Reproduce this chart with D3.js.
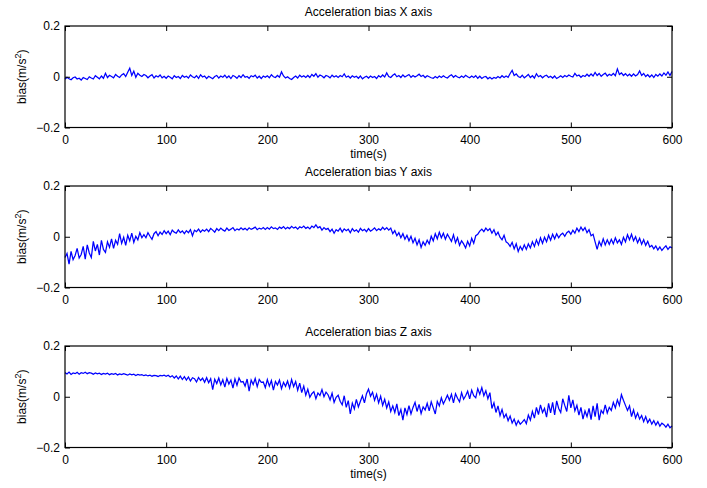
<!DOCTYPE html>
<html>
<head>
<meta charset="utf-8">
<script src="https://cdn.jsdelivr.net/npm/d3@7"></script>
<style>
  body { margin: 0; background: #fff; }
  svg { display: block; }
  text { font-family: "Liberation Sans", Arial, Helvetica, sans-serif; fill: #000; }
  .tick text { font-size: 12px; }
  .box { fill: none; stroke: #000; stroke-width: 1.2; }
  .trace { fill: none; stroke: #0000ff; stroke-width: 1.25; stroke-linejoin: miter; }
</style>
</head>
<body>
<div class="chart-container"></div>
<script>
// sample spacing (s) of the traces below
var timeStep = 2;

var titles = ['Acceleration bias X axis', 'Acceleration bias Y axis', 'Acceleration bias Z axis'];
var xTicks = [0, 100, 200, 300, 400, 500, 600];
var yTicks = [-0.2, 0, 0.2];

var biasX = [
  -0.010,-0.002,-0.008,-0.012,-0.004,-0.001,-0.009,-0.006,-0.013,-0.003,
  -0.007,-0.011,0.000,-0.005,-0.009,0.004,-0.002,-0.008,0.003,-0.006,
  0.014,-0.003,0.006,0.001,-0.004,0.009,0.002,-0.003,0.007,0.012,
  0.001,0.018,0.034,0.005,0.022,-0.002,0.014,0.006,0.001,0.009,
  0.005,-0.004,0.003,0.008,-0.005,0.004,-0.001,0.007,-0.004,0.002,
  -0.006,0.003,-0.002,-0.008,0.004,-0.003,0.001,-0.007,0.005,-0.002,
  0.002,-0.005,0.007,0.000,-0.004,0.004,-0.006,0.008,-0.001,0.003,
  -0.007,0.002,-0.003,-0.008,0.001,0.005,-0.005,0.003,-0.002,0.006,
  -0.004,0.003,-0.007,0.005,0.001,-0.006,0.004,-0.003,0.008,-0.002,
  0.001,-0.006,0.004,0.000,0.006,-0.005,0.002,-0.007,0.003,-0.002,
  0.004,-0.004,0.008,0.000,-0.003,0.005,-0.002,0.019,0.003,-0.005,
  0.000,-0.007,-0.011,-0.003,0.003,-0.005,0.006,-0.001,0.004,-0.003,
  0.005,-0.003,0.009,0.002,0.012,-0.002,0.007,0.003,-0.004,0.005,
  0.002,-0.004,0.006,-0.001,0.004,-0.003,0.005,0.000,0.011,-0.002,
  0.003,-0.005,0.004,-0.002,0.002,-0.006,0.003,-0.008,-0.002,0.002,
  -0.005,0.003,-0.003,0.001,-0.007,0.004,-0.002,0.007,-0.001,0.015,
  0.001,-0.003,0.006,0.011,0.000,0.005,-0.003,0.007,-0.001,0.004,
  0.009,-0.002,0.005,-0.001,0.004,0.010,0.001,0.006,-0.003,0.004,
  0.000,-0.004,-0.006,0.001,-0.005,0.003,-0.003,0.004,-0.002,-0.005,
  0.003,0.008,-0.002,0.005,-0.001,-0.004,0.003,-0.003,0.006,0.000,
  -0.004,0.003,-0.003,0.004,-0.006,0.002,-0.007,-0.001,0.001,-0.008,
  -0.002,-0.009,-0.003,-0.006,0.001,-0.005,0.004,-0.003,0.003,-0.002,
  0.013,0.025,0.005,0.011,0.001,-0.003,0.006,-0.004,0.002,0.009,
  -0.003,0.004,-0.005,0.012,0.000,0.005,-0.004,0.003,0.006,-0.003,
  0.002,-0.005,0.003,-0.007,-0.002,0.004,-0.003,0.005,0.000,0.007,
  0.002,-0.001,0.013,0.003,0.007,-0.002,0.005,0.001,0.010,0.002,
  0.011,0.003,0.017,0.005,0.013,0.002,0.009,0.014,0.003,0.010,
  0.005,0.013,0.004,0.031,0.009,0.015,0.005,0.012,0.003,0.010,
  0.002,0.011,0.003,0.009,0.023,0.005,0.013,0.001,0.008,-0.001,
  0.007,-0.003,0.009,0.002,0.011,0.003,0.015,0.006,0.019,0.005,
  0.021
];

var biasY = [
  -0.082,-0.066,-0.108,-0.058,-0.090,-0.074,-0.046,-0.084,-0.070,-0.038,
  -0.088,-0.032,-0.064,-0.082,-0.018,-0.056,-0.030,-0.072,-0.014,-0.050,
  -0.062,-0.020,-0.042,-0.008,-0.046,-0.014,-0.030,0.012,-0.026,-0.002,
  -0.034,0.006,-0.016,0.014,-0.022,0.002,-0.012,0.016,-0.004,0.008,
  -0.004,0.016,0.002,-0.010,0.012,0.020,0.004,0.018,0.009,0.024,
  0.012,0.022,0.008,0.026,0.018,0.014,0.027,0.016,0.023,0.012,
  0.024,0.016,0.028,0.004,0.026,0.020,0.030,0.018,0.027,0.022,
  0.030,0.020,0.033,0.026,0.018,0.032,0.024,0.034,0.027,0.022,
  0.034,0.025,0.030,0.036,0.024,0.031,0.027,0.035,0.028,0.033,
  0.026,0.035,0.029,0.033,0.038,0.028,0.034,0.030,0.036,0.029,
  0.036,0.030,0.039,0.032,0.035,0.029,0.038,0.033,0.040,0.031,
  0.037,0.032,0.041,0.034,0.038,0.030,0.039,0.035,0.042,0.033,
  0.038,0.031,0.042,0.036,0.047,0.035,0.040,0.026,0.036,0.029,
  0.033,0.020,0.030,0.014,0.028,0.022,0.034,0.019,0.031,0.024,
  0.030,0.016,0.032,0.022,0.027,0.018,0.033,0.024,0.029,0.020,
  0.032,0.022,0.028,0.035,0.024,0.031,0.026,0.037,0.028,0.036,
  0.026,0.034,0.012,0.024,0.004,0.016,-0.004,0.012,-0.010,0.006,
  -0.016,0.002,-0.024,-0.006,-0.032,-0.012,-0.042,-0.020,-0.034,-0.014,
  -0.028,0.002,-0.016,0.012,-0.008,0.018,-0.004,0.014,-0.010,0.010,
  -0.004,-0.018,0.008,-0.024,-0.004,-0.034,-0.016,-0.028,-0.044,-0.018,
  -0.036,-0.006,-0.026,0.004,0.010,0.022,0.030,0.020,0.034,0.024,
  0.032,0.014,0.028,0.006,0.018,-0.002,-0.012,0.006,-0.020,-0.026,
  -0.038,-0.022,-0.048,-0.028,-0.058,-0.038,-0.052,-0.032,-0.050,-0.028,
  -0.044,-0.020,-0.038,-0.012,-0.032,-0.004,-0.026,-0.002,-0.020,0.006,
  -0.014,0.010,-0.008,0.012,-0.004,0.008,0.014,0.002,0.016,0.022,
  0.010,0.026,0.014,0.034,0.020,0.038,0.024,0.036,0.016,0.028,
  0.004,0.010,-0.020,-0.050,-0.018,-0.036,-0.008,-0.032,-0.012,-0.030,
  -0.010,-0.028,-0.004,-0.024,-0.012,-0.030,-0.002,-0.020,0.008,-0.012,
  0.010,-0.016,0.000,-0.024,-0.006,-0.030,-0.012,-0.034,-0.018,-0.040,
  -0.034,-0.048,-0.036,-0.052,-0.040,-0.054,-0.044,-0.036,-0.050,-0.040,
  -0.044
];

var biasZ = [
  0.095,0.090,0.097,0.088,0.094,0.091,0.096,0.089,0.095,0.092,
  0.097,0.091,0.095,0.093,0.089,0.094,0.090,0.093,0.088,0.092,
  0.089,0.093,0.087,0.091,0.088,0.092,0.086,0.090,0.087,0.091,
  0.088,0.085,0.090,0.086,0.089,0.084,0.088,0.085,0.087,0.083,
  0.086,0.082,0.085,0.081,0.084,0.083,0.080,0.084,0.082,0.085,
  0.081,0.085,0.078,0.083,0.074,0.082,0.070,0.081,0.068,0.079,
  0.066,0.078,0.062,0.075,0.071,0.058,0.076,0.064,0.073,0.057,
  0.075,0.055,0.071,0.028,0.069,0.052,0.074,0.047,0.067,0.038,
  0.072,0.050,0.066,0.034,0.070,0.045,0.074,0.058,0.060,0.042,
  0.070,0.022,0.066,0.048,0.072,0.040,0.068,0.057,0.058,0.036,
  0.068,0.042,0.064,0.026,0.060,0.046,0.066,0.032,0.057,0.041,
  0.062,0.034,0.068,0.040,0.060,0.026,0.054,0.016,0.042,0.006,
  0.030,-0.002,0.012,0.020,-0.008,0.015,0.005,0.028,0.000,0.018,
  0.008,-0.012,0.014,-0.022,-0.002,0.006,-0.018,-0.032,0.004,-0.042,
  -0.015,-0.068,-0.025,-0.048,-0.010,-0.040,-0.018,0.004,-0.024,0.012,
  0.030,0.002,0.018,-0.014,0.010,-0.024,0.002,-0.034,-0.010,-0.044,
  -0.020,-0.058,-0.036,-0.062,-0.028,-0.074,-0.050,-0.092,-0.044,-0.070,
  -0.035,-0.068,-0.042,-0.022,-0.058,-0.030,-0.066,-0.040,-0.052,-0.026,
  -0.056,-0.020,-0.044,-0.068,-0.018,-0.036,-0.004,-0.028,-0.012,0.006,
  -0.014,0.010,-0.024,0.012,-0.006,-0.020,0.016,-0.010,0.004,0.022,
  -0.008,0.026,0.004,-0.004,0.032,0.010,0.036,0.004,0.024,-0.008,
  0.016,-0.046,-0.024,-0.062,-0.036,-0.074,-0.050,-0.082,-0.068,-0.094,
  -0.076,-0.104,-0.088,-0.112,-0.094,-0.108,-0.100,-0.090,-0.106,-0.072,
  -0.092,-0.058,-0.084,-0.042,-0.070,-0.032,-0.062,-0.046,-0.080,-0.026,
  -0.064,-0.022,-0.072,-0.016,-0.046,-0.062,-0.008,-0.034,-0.058,0.006,
  -0.044,-0.012,-0.056,-0.034,-0.072,-0.042,-0.088,-0.056,-0.078,-0.046,
  -0.090,-0.036,-0.078,-0.026,-0.092,-0.054,-0.066,-0.032,-0.064,-0.042,
  -0.054,-0.022,-0.044,-0.012,-0.034,0.008,-0.014,-0.034,-0.054,-0.036,
  -0.078,-0.052,-0.084,-0.064,-0.088,-0.074,-0.098,-0.078,-0.102,-0.088,
  -0.108,-0.094,-0.112,-0.098,-0.116,-0.104,-0.110,-0.120,-0.108,-0.122,
  -0.115
];

var width = 707;
var height = 488;
var plot = {left: 65, right: 672, height: 101.5};
var panelTops = [26, 186, 346];

var svg = d3.select('.chart-container').append('svg')
  .attr('width', width)
  .attr('height', height);

var x = d3.scaleLinear()
  .domain([0, 600])
  .range([plot.left, plot.right]);

function addPanel(values, title, top) {
  var bottom = top + plot.height;
  var y = d3.scaleLinear()
    .domain([-0.2, 0.2])
    .range([bottom, top]);

  var g = svg.append('g');

  var line = d3.line()
    .x((d, i) => x(i * timeStep))
    .y(d => y(d));

  g.append('path')
    .datum(values)
    .attr('class', 'trace')
    .attr('d', line);

  // matlab style: ticks point inwards on all four sides
  g.append('g')
    .attr('transform', `translate(0,${bottom})`)
    .call(d3.axisBottom(x).tickValues(xTicks).tickSize(-5).tickPadding(8))
    .call(a => a.select('.domain').remove());
  g.append('g')
    .attr('transform', `translate(0,${top})`)
    .call(d3.axisTop(x).tickValues(xTicks).tickSize(-5).tickFormat(''))
    .call(a => a.select('.domain').remove());
  g.append('g')
    .attr('transform', `translate(${plot.left},0)`)
    .call(d3.axisLeft(y).tickValues(yTicks).tickSize(-5).tickPadding(5)
      .tickFormat(d => d === 0 ? '0' : d3.format('.1f')(d).replace('-', '\u2212')))
    .call(a => a.select('.domain').remove());
  g.append('g')
    .attr('transform', `translate(${plot.right},0)`)
    .call(d3.axisRight(y).tickValues(yTicks).tickSize(-5).tickFormat(''))
    .call(a => a.select('.domain').remove());

  g.selectAll('.tick line').attr('stroke', '#000');
  g.selectAll('.tick text').attr('font-family', null).attr('font-size', null);

  g.append('rect')
    .attr('class', 'box')
    .attr('x', plot.left)
    .attr('y', top)
    .attr('width', plot.right - plot.left)
    .attr('height', plot.height);

  g.append('text')
    .text(title)
    .attr('text-anchor', 'middle')
    .attr('font-size', 12)
    .attr('x', (plot.left + plot.right) / 2)
    .attr('y', top - 10);

  var yLabel = g.append('text')
    .attr('text-anchor', 'middle')
    .attr('font-size', 12)
    .attr('transform', `translate(26,${(top + bottom) / 2}) rotate(-90)`);
  yLabel.append('tspan').text('bias(m/s');
  yLabel.append('tspan').text('2').attr('font-size', 9).attr('dy', -5);
  yLabel.append('tspan').text(')').attr('dy', 5);

  return g;
}

addPanel(biasX, titles[0], panelTops[0]);
addPanel(biasY, titles[1], panelTops[1]);
addPanel(biasZ, titles[2], panelTops[2]);

// "time(s)" only sits under the first and last panel
[panelTops[0], panelTops[2]].forEach(top => {
  svg.append('text')
    .text('time(s)')
    .attr('text-anchor', 'middle')
    .attr('font-size', 12)
    .attr('x', (plot.left + plot.right) / 2)
    .attr('y', top + plot.height + 30);
});
</script>
</body>
</html>
